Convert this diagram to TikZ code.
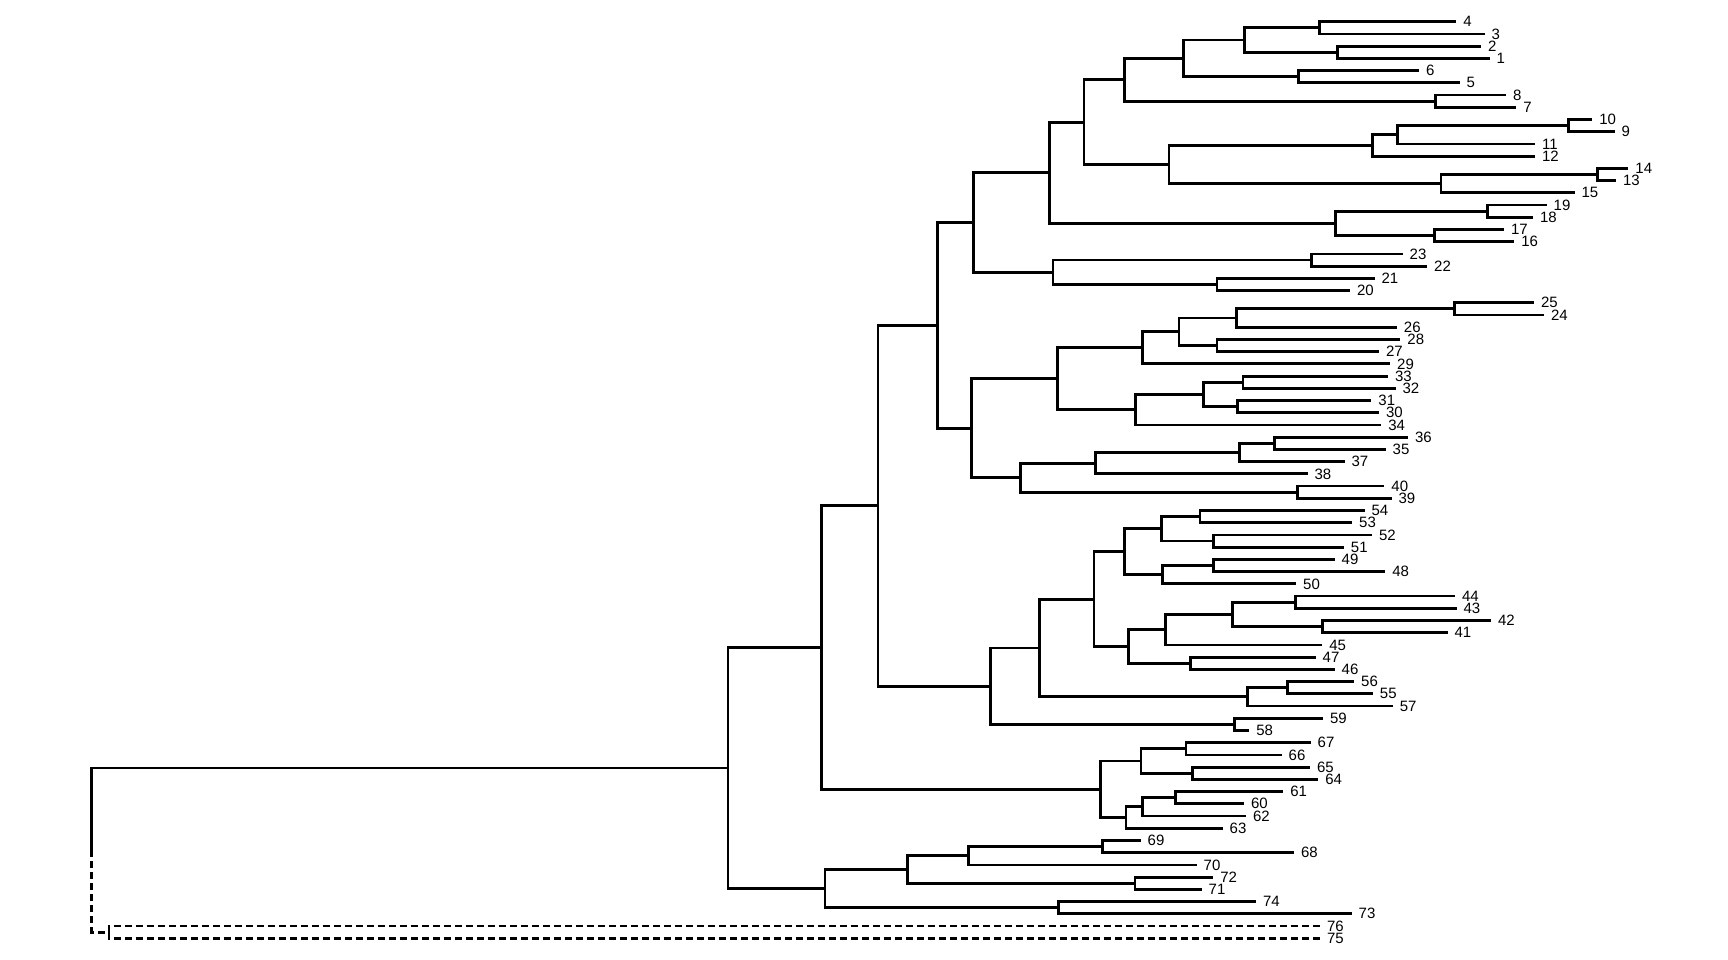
\documentclass[tikz,border=0pt]{standalone}
\usepackage{fontspec}
\setmainfont{Liberation Sans}
\usepackage{tikz}
\usetikzlibrary{calc}

\begin{document}
\begin{tikzpicture}[x=1pt,y=-12.22pt,every node/.style={inner ysep=0pt,inner xsep=7pt,outer sep=0pt}]
\tikzstyle{branch}=[line width=2.8pt]
\tikzstyle{outgroup}=[line width=2.8pt,dash pattern=on 7pt off 4pt]
\tikzstyle{tip}=[anchor=west,font=\fontsize{15}{18}\selectfont]

\useasboundingbox (0,-0.7774) rectangle (1728,77.782);

% leaves: label / end of branch / row
\foreach \lab/\x/\i in {4/1456.3/1, 3/1484.5/2, 2/1481.2/3, 1/1489.5/4, 6/1419/5, 5/1459.6/6,
  8/1506/7, 7/1516.4/8, 10/1592.3/9, 9/1614.7/10, 11/1535/11, 12/1535/12, 14/1628.4/13,
  13/1616/14, 15/1574.5/15, 19/1546.7/16, 18/1533/17, 17/1504/18, 16/1514.3/19,
  23/1402.7/20, 22/1427.2/21, 21/1374.6/22, 20/1350/23, 25/1534/24, 24/1544/25,
  26/1396.9/26, 28/1400.4/27, 27/1379/28, 29/1390.2/29, 33/1388/30, 32/1395.5/31,
  31/1371.4/32, 30/1379/33, 34/1381.3/34, 36/1408/35, 35/1385.7/36, 37/1344.6/37,
  38/1307.6/38, 40/1384.4/39, 39/1391.5/40, 54/1364.6/41, 53/1352.2/42, 52/1372/43,
  51/1343.9/44, 49/1334.7/45, 48/1385.3/46, 50/1296.2/47, 44/1455/48, 43/1456.6/49,
  42/1491/50, 41/1447.5/51, 45/1322.3/52, 47/1315.7/53, 46/1334.7/54, 56/1354.2/55,
  55/1372.9/56, 57/1392.8/57, 59/1323.1/58, 58/1249.3/59, 67/1310.7/60, 66/1281.7/61,
  65/1310/62, 64/1318.3/63, 61/1283.3/64, 60/1244/65, 62/1246/66, 63/1222.7/67,
  69/1140.7/68, 68/1294/69, 70/1196.7/70, 72/1213.3/71, 71/1201.7/72, 74/1256/73,
  73/1351.7/74, 76/1320/75, 75/1320/76}
  \node[tip] (t\lab) at (\x,\i) {\lab};

% internal nodes
\coordinate (na) at (1319.5,1.5);
\coordinate (nb) at (1337.3,3.5);
\coordinate (nc) at (1244.6,2.5);
\coordinate (nd) at (1298.8,5.5);
\coordinate (ne) at (1183.6,4);
\coordinate (nf) at (1435.6,7.5);
\coordinate (ng) at (1124.6,5.75);
\coordinate (nh) at (1568.2,9.5);
\coordinate (ni) at (1397.4,10.25);
\coordinate (nj) at (1372.6,11.125);
\coordinate (nk) at (1597.3,13.5);
\coordinate (nl) at (1441,14.25);
\coordinate (nm) at (1169,12.6875);
\coordinate (nn) at (1084,9.21875);
\coordinate (no) at (1487.4,16.5);
\coordinate (np) at (1434.7,18.5);
\coordinate (nq) at (1335.2,17.5);
\coordinate (nr) at (1049.5,13.359);
\coordinate (ns) at (1311.2,20.5);
\coordinate (nt) at (1217,22.5);
\coordinate (nu) at (1053,21.5);
\coordinate (nv) at (973.3,17.43);
\coordinate (nw) at (1454.5,24.5);
\coordinate (nx) at (1236.2,25.25);
\coordinate (ny) at (1217,27.5);
\coordinate (nz) at (1179,26.375);
\coordinate (nA) at (1142.4,27.6875);
\coordinate (nB) at (1242.9,30.5);
\coordinate (nC) at (1237.5,32.5);
\coordinate (nD) at (1203.6,31.5);
\coordinate (nE) at (1135.7,32.75);
\coordinate (nF) at (1057.6,30.219);
\coordinate (nG) at (1274.1,35.5);
\coordinate (nH) at (1239.7,36.25);
\coordinate (nI) at (1095.5,37.125);
\coordinate (nJ) at (1297.8,39.5);
\coordinate (nK) at (1020.5,38.3125);
\coordinate (nL) at (971.4,34.266);
\coordinate (nM) at (937.3,25.848);
\coordinate (nN) at (1200,41.5);
\coordinate (nO) at (1213.3,43.5);
\coordinate (nP) at (1161.4,42.5);
\coordinate (nQ) at (1213.3,45.5);
\coordinate (nR) at (1162.7,46.25);
\coordinate (nS) at (1124.1,44.375);
\coordinate (nT) at (1295.4,48.5);
\coordinate (nU) at (1322.3,50.5);
\coordinate (nV) at (1232.8,49.5);
\coordinate (nW) at (1165.6,50.75);
\coordinate (nX) at (1190.5,53.5);
\coordinate (nY) at (1128.3,52.125);
\coordinate (nZ) at (1093.9,48.25);
\coordinate (nAA) at (1287.1,55.5);
\coordinate (nAB) at (1247.7,56.25);
\coordinate (nAC) at (1039.1,52.25);
\coordinate (nAD) at (1234.8,58.5);
\coordinate (nAE) at (990.6,55.375);
\coordinate (nAF) at (878,40.611);
\coordinate (nAG) at (1186,60.5);
\coordinate (nAH) at (1192.3,62.5);
\coordinate (nAI) at (1141,61.5);
\coordinate (nAJ) at (1175.7,64.5);
\coordinate (nAK) at (1142.3,65.25);
\coordinate (nAL) at (1126,66.125);
\coordinate (nAM) at (1100.5,63.8125);
\coordinate (nAN) at (821.7,52.212);
\coordinate (nAO) at (1102.5,68.5);
\coordinate (nAP) at (968.3,69.25);
\coordinate (nAQ) at (1135,71.5);
\coordinate (nAR) at (907.3,70.375);
\coordinate (nAS) at (1058.3,73.5);
\coordinate (nAT) at (825,71.9375);
\coordinate (nAU) at (728,62.075);
\coordinate (nAV) at (109,75.5);
\coordinate (root) at (91.8,68.787);

% branches
\foreach \p/\c in {na/t4, na/t3, nb/t2, nb/t1, nc/na, nc/nb, nd/t6, nd/t5, ne/nc, ne/nd,
  nf/t8, nf/t7, ng/ne, ng/nf, nh/t10, nh/t9, ni/nh, ni/t11, nj/ni, nj/t12, nk/t14, nk/t13,
  nl/nk, nl/t15, nm/nj, nm/nl, nn/ng, nn/nm, no/t19, no/t18, np/t17, np/t16, nq/no, nq/np,
  nr/nn, nr/nq, ns/t23, ns/t22, nt/t21, nt/t20, nu/ns, nu/nt, nv/nr, nv/nu,
  nw/t25, nw/t24, nx/nw, nx/t26, ny/t28, ny/t27, nz/nx, nz/ny, nA/nz, nA/t29,
  nB/t33, nB/t32, nC/t31, nC/t30, nD/nB, nD/nC, nE/nD, nE/t34, nF/nA, nF/nE,
  nG/t36, nG/t35, nH/nG, nH/t37, nI/nH, nI/t38, nJ/t40, nJ/t39, nK/nI, nK/nJ,
  nL/nF, nL/nK, nM/nv, nM/nL,
  nN/t54, nN/t53, nO/t52, nO/t51, nP/nN, nP/nO, nQ/t49, nQ/t48, nR/nQ, nR/t50,
  nS/nP, nS/nR, nT/t44, nT/t43, nU/t42, nU/t41, nV/nT, nV/nU, nW/nV, nW/t45,
  nX/t47, nX/t46, nY/nW, nY/nX, nZ/nS, nZ/nY, nAA/t56, nAA/t55, nAB/nAA, nAB/t57,
  nAC/nZ, nAC/nAB, nAD/t59, nAD/t58, nAE/nAC, nAE/nAD, nAF/nM, nAF/nAE,
  nAG/t67, nAG/t66, nAH/t65, nAH/t64, nAI/nAG, nAI/nAH, nAJ/t61, nAJ/t60,
  nAK/nAJ, nAK/t62, nAL/nAK, nAL/t63, nAM/nAI, nAM/nAL, nAN/nAF, nAN/nAM,
  nAO/t69, nAO/t68, nAP/nAO, nAP/t70, nAQ/t72, nAQ/t71, nAR/nAP, nAR/nAQ,
  nAS/t74, nAS/t73, nAT/nAR, nAT/nAS, nAU/nAN, nAU/nAT, root/nAU}
  \draw [branch] (\p) |- (\c);

% outgroup
\draw [outgroup] (root) |- (nAV);
\draw [outgroup] (nAV) |- (t76) (nAV) |- (t75);
\end{tikzpicture}
\end{document}
